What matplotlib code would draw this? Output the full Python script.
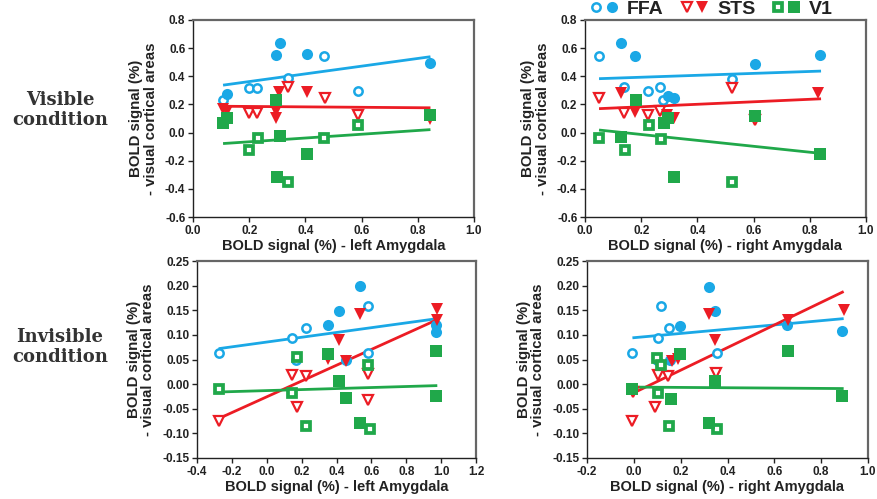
import matplotlib
matplotlib.use("Agg")
import matplotlib.pyplot as plt
from matplotlib.lines import Line2D
from matplotlib.legend_handler import HandlerTuple

# ---------------- data ----------------
# Visible condition, left amygdala
vl_ffa_open_x = [0.108, 0.198, 0.227, 0.337, 0.466, 0.588]
vl_ffa_open_y = [0.23, 0.32, 0.32, 0.385, 0.545, 0.296]
vl_ffa_fill_x = [0.12, 0.296, 0.31, 0.406, 0.843]
vl_ffa_fill_y = [0.275, 0.55, 0.635, 0.555, 0.497]
vl_sts_open_x = [0.198, 0.227, 0.337, 0.468, 0.588]
vl_sts_open_y = [0.14, 0.14, 0.326, 0.244, 0.125]
vl_sts_fill_x = [0.105, 0.12, 0.296, 0.296, 0.305, 0.406, 0.843]
vl_sts_fill_y = [0.165, 0.155, 0.15, 0.105, 0.285, 0.285, 0.095]
vl_v1_open_x = [0.198, 0.233, 0.465, 0.588, 0.337]
vl_v1_open_y = [-0.124, -0.04, -0.04, 0.054, -0.353]
vl_v1_fill_x = [0.108, 0.122, 0.296, 0.308, 0.406, 0.30, 0.843]
vl_v1_fill_y = [0.066, 0.10, 0.23, -0.024, -0.152, -0.313, 0.125]
vl_fit_x = [0.107, 0.845]
vl_fit_ffa = [0.337, 0.539]
vl_fit_sts = [0.187, 0.176]
vl_fit_v1 = [-0.078, 0.021]

# Visible condition, right amygdala
vr_ffa_open_x = [0.051, 0.14, 0.223, 0.267, 0.279, 0.523]
vr_ffa_open_y = [0.544, 0.325, 0.295, 0.326, 0.23, 0.379]
vr_ffa_fill_x = [0.127, 0.178, 0.297, 0.315, 0.606, 0.835]
vr_ffa_fill_y = [0.634, 0.544, 0.26, 0.244, 0.49, 0.55]
vr_sts_open_x = [0.051, 0.14, 0.223, 0.267, 0.523, 0.606]
vr_sts_open_y = [0.244, 0.14, 0.125, 0.15, 0.32, 0.09]
vr_sts_fill_x = [0.127, 0.178, 0.293, 0.315, 0.83]
vr_sts_fill_y = [0.28, 0.149, 0.125, 0.105, 0.284]
vr_v1_open_x = [0.051, 0.142, 0.226, 0.27, 0.523]
vr_v1_open_y = [-0.04, -0.124, 0.054, -0.048, -0.349]
vr_v1_fill_x = [0.127, 0.182, 0.28, 0.297, 0.315, 0.606, 0.835]
vr_v1_fill_y = [-0.03, 0.232, 0.066, 0.10, -0.313, 0.118, -0.152]
vr_fit_x = [0.05, 0.84]
vr_fit_ffa = [0.383, 0.437]
vr_fit_sts = [0.170, 0.240]
vr_fit_v1 = [0.018, -0.148]

# Invisible condition, left amygdala
il_ffa_open_x = [-0.276, 0.144, 0.224, 0.169, 0.583, 0.583]
il_ffa_open_y = [0.063, 0.094, 0.113, 0.05, 0.158, 0.064]
il_ffa_fill_x = [0.35, 0.417, 0.535, 0.455, 0.969, 0.969]
il_ffa_fill_y = [0.121, 0.148, 0.199, 0.048, 0.106, 0.12]
il_sts_open_x = [-0.276, 0.144, 0.224, 0.173, 0.583, 0.583]
il_sts_open_y = [-0.074, 0.018, 0.016, -0.047, 0.021, -0.032]
il_sts_fill_x = [0.35, 0.417, 0.455, 0.535, 0.975, 0.975]
il_sts_fill_y = [0.052, 0.089, 0.047, 0.143, 0.153, 0.13]
il_v1_open_x = [-0.276, 0.144, 0.173, 0.224, 0.593, 0.583]
il_v1_open_y = [-0.009, -0.018, 0.055, -0.086, -0.092, 0.038]
il_v1_fill_x = [0.354, 0.417, 0.455, 0.535, 0.971, 0.971]
il_v1_fill_y = [0.062, 0.006, -0.028, -0.079, 0.068, -0.024]
il_fit_x = [-0.276, 0.978]
il_fit_ffa = [0.072, 0.133]
il_fit_sts = [-0.070, 0.131]
il_fit_v1 = [-0.016, -0.003]

# Invisible condition, right amygdala
ir_ffa_open_x = [-0.006, 0.104, 0.115, 0.151, 0.354, 0.097]
ir_ffa_open_y = [0.063, 0.094, 0.158, 0.113, 0.063, 0.05]
ir_ffa_fill_x = [0.197, 0.322, 0.347, 0.653, 0.889, 0.154]
ir_ffa_fill_y = [0.119, 0.197, 0.148, 0.121, 0.107, 0.05]
ir_sts_open_x = [-0.006, -0.003, 0.09, 0.104, 0.147, 0.351]
ir_sts_open_y = [-0.075, -0.016, -0.047, 0.018, 0.016, 0.023]
ir_sts_fill_x = [0.161, 0.19, 0.322, 0.347, 0.66, 0.896]
ir_sts_fill_y = [0.047, 0.052, 0.143, 0.089, 0.13, 0.151]
ir_v1_open_x = [0.097, 0.118, 0.104, 0.151, 0.354]
ir_v1_open_y = [0.054, 0.038, -0.018, -0.086, -0.092]
ir_v1_fill_x = [-0.006, 0.157, 0.197, 0.322, 0.347, 0.66, 0.889]
ir_v1_fill_y = [-0.009, -0.03, 0.062, -0.079, 0.006, 0.067, -0.024]
ir_fit_x = [-0.006, 0.896]
ir_fit_ffa = [0.094, 0.133]
ir_fit_sts = [-0.019, 0.188]
ir_fit_v1 = [-0.006, -0.009]

xlabel_left = "BOLD signal (%) - left Amygdala"
xlabel_right = "BOLD signal (%) - right Amygdala"
ylabel_text = "BOLD signal (%)\n- visual cortical areas"
row_labels = ["Visible\ncondition", "Invisible\ncondition"]
legend_labels = ["FFA", "STS", "V1"]

top_yticks = [-0.6, -0.4, -0.2, 0.0, 0.2, 0.4, 0.6, 0.8]
top_xticks = [0.0, 0.2, 0.4, 0.6, 0.8, 1.0]
bot_yticks = [-0.15, -0.10, -0.05, 0.00, 0.05, 0.10, 0.15, 0.20, 0.25]
bl_xticks = [-0.4, -0.2, 0.0, 0.2, 0.4, 0.6, 0.8, 1.0, 1.2]
br_xticks = [-0.2, 0.0, 0.2, 0.4, 0.6, 0.8, 1.0]

# ---------------- style ----------------
BLUE = "#1AA8E6"
RED = "#EC1C24"
GREEN = "#20A84A"
plt.rcParams["font.family"] = ["Liberation Sans", "DejaVu Sans"]

W, H = 877, 499
fig = plt.figure(figsize=(W / 100, H / 100), dpi=100)


def axrect(l, r, t, b):
    return [l / W, 1 - b / H, (r - l) / W, (b - t) / H]


mk = {
    "ffa": dict(marker="o", open=dict(ms=6.0, mew=1.8), fill=dict(ms=8.0)),
    "sts": dict(marker="v", open=dict(ms=6.8, mew=1.6), fill=dict(ms=9.0)),
    "v1": dict(marker="s", open=dict(ms=5.8, mew=2.7), fill=dict(ms=8.4)),
}
colors = {"ffa": BLUE, "sts": RED, "v1": GREEN}


def draw_panel(rect, series, fits, fit_x, xlim, xticks, ylim, yticks, xlabel, yfmt):
    ax = fig.add_axes(rect)
    for key, fy in fits:
        ax.plot(fit_x, fy, color=colors[key], lw=2.0, zorder=2, solid_capstyle="butt")
    z = 3
    for key, (ox, oy, fx, fy) in series:
        c = colors[key]
        m = mk[key]
        ax.plot(ox, oy, ls="none", marker=m["marker"], mfc="white", mec=c,
                zorder=z, **m["open"])
        ax.plot(fx, fy, ls="none", marker=m["marker"], mfc=c, mec=c, mew=0,
                zorder=z, **m["fill"])
        z += 1
    ax.set_xlim(*xlim)
    ax.set_ylim(*ylim)
    ax.set_xticks(xticks)
    ax.set_yticks(yticks)
    ax.set_xticklabels([f"{v:.1f}" for v in xticks])
    ax.set_yticklabels([yfmt.format(v) for v in yticks])
    ax.tick_params(direction="out", length=3.5, width=1.0, labelsize=8.5,
                   colors="#222222", pad=2)
    for lab in ax.get_xticklabels() + ax.get_yticklabels():
        lab.set_fontweight("bold")
    for s in ["left", "bottom"]:
        ax.spines[s].set_color("#222222")
        ax.spines[s].set_linewidth(1.0)
    for s in ["top", "right"]:
        ax.spines[s].set_color("#666666")
        ax.spines[s].set_linewidth(1.6)
    ax.set_xlabel(xlabel, fontsize=10.5, fontweight="bold", color="#222222", labelpad=2)
    ax.set_ylabel(ylabel_text, fontsize=10.8, fontweight="bold", color="#222222",
                  labelpad=5, linespacing=1.05)
    return ax


draw_panel(axrect(193, 474, 20, 217),
           [("ffa", (vl_ffa_open_x, vl_ffa_open_y, vl_ffa_fill_x, vl_ffa_fill_y)),
            ("sts", (vl_sts_open_x, vl_sts_open_y, vl_sts_fill_x, vl_sts_fill_y)),
            ("v1", (vl_v1_open_x, vl_v1_open_y, vl_v1_fill_x, vl_v1_fill_y))],
           [("ffa", vl_fit_ffa), ("sts", vl_fit_sts), ("v1", vl_fit_v1)], vl_fit_x,
           (0.0, 1.0), top_xticks, (-0.6, 0.8), top_yticks, xlabel_left, "{:.1f}")

draw_panel(axrect(585, 866, 20, 217),
           [("ffa", (vr_ffa_open_x, vr_ffa_open_y, vr_ffa_fill_x, vr_ffa_fill_y)),
            ("sts", (vr_sts_open_x, vr_sts_open_y, vr_sts_fill_x, vr_sts_fill_y)),
            ("v1", (vr_v1_open_x, vr_v1_open_y, vr_v1_fill_x, vr_v1_fill_y))],
           [("ffa", vr_fit_ffa), ("sts", vr_fit_sts), ("v1", vr_fit_v1)], vr_fit_x,
           (0.0, 1.0), top_xticks, (-0.6, 0.8), top_yticks, xlabel_right, "{:.1f}")

draw_panel(axrect(197, 476, 261, 458),
           [("ffa", (il_ffa_open_x, il_ffa_open_y, il_ffa_fill_x, il_ffa_fill_y)),
            ("sts", (il_sts_open_x, il_sts_open_y, il_sts_fill_x, il_sts_fill_y)),
            ("v1", (il_v1_open_x, il_v1_open_y, il_v1_fill_x, il_v1_fill_y))],
           [("ffa", il_fit_ffa), ("sts", il_fit_sts), ("v1", il_fit_v1)], il_fit_x,
           (-0.4, 1.2), bl_xticks, (-0.15, 0.25), bot_yticks, xlabel_left, "{:.2f}")

draw_panel(axrect(587, 868, 261, 458),
           [("ffa", (ir_ffa_open_x, ir_ffa_open_y, ir_ffa_fill_x, ir_ffa_fill_y)),
            ("sts", (ir_sts_open_x, ir_sts_open_y, ir_sts_fill_x, ir_sts_fill_y)),
            ("v1", (ir_v1_open_x, ir_v1_open_y, ir_v1_fill_x, ir_v1_fill_y))],
           [("ffa", ir_fit_ffa), ("sts", ir_fit_sts), ("v1", ir_fit_v1)], ir_fit_x,
           (-0.2, 1.0), br_xticks, (-0.15, 0.25), bot_yticks, xlabel_right, "{:.2f}")

# row labels
for lab, yc in zip(row_labels, [110, 347]):
    fig.text(60 / W, 1 - yc / H, lab, ha="center", va="center", fontsize=13,
             fontweight="bold", family="DejaVu Serif", color="#333333",
             linespacing=1.2)

# legend
handles = []
for key in ["ffa", "sts", "v1"]:
    m = mk[key]
    c = colors[key]
    h_open = Line2D([], [], ls="none", marker=m["marker"], mfc="white", mec=c, **m["open"])
    h_fill = Line2D([], [], ls="none", marker=m["marker"], mfc=c, mec=c, mew=0, **m["fill"])
    handles.append((h_open, h_fill))
fig.legend(handles, legend_labels, handler_map={tuple: HandlerTuple(ndivide=None, pad=0.25)},
           ncol=3, loc="center", bbox_to_anchor=(712 / W, 1 - 9 / H), frameon=False,
           prop=dict(size=14, weight="bold"), handlelength=1.35, handletextpad=0.5,
           columnspacing=0.9, borderpad=0, borderaxespad=0, labelcolor="#222222")

fig.savefig("out.png", dpi=100)
